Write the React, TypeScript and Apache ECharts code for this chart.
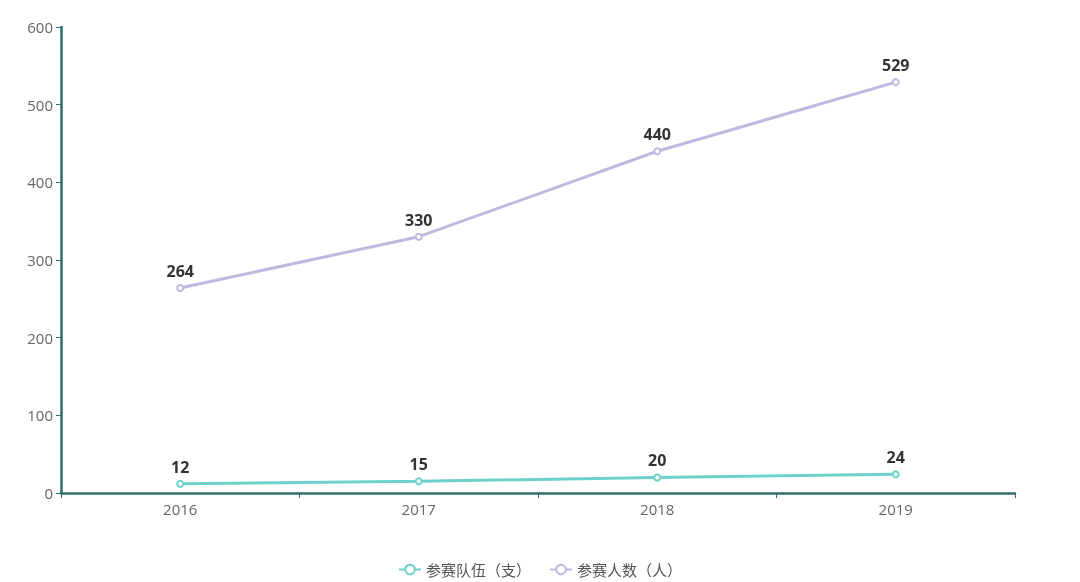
import React, { useEffect, useRef } from "react";
import * as echarts from "echarts";

const years = ["2016", "2017", "2018", "2019"];
const teams = [12, 15, 20, 24];
const people = [264, 330, 440, 529];

const FONT = "'Open Sans', 'Noto Sans CJK SC', sans-serif";
const AXIS_COLOR = "#2f6e6e";

export default function App() {
  const chartRef = useRef<HTMLDivElement>(null);

  useEffect(() => {
    if (!chartRef.current) return;
    const chart = echarts.init(chartRef.current, null, { renderer: "svg" });

    const labelStyle = {
      show: true,
      position: "top" as const,
      color: "#333",
      fontSize: 16,
      fontWeight: "bold" as const,
      fontFamily: FONT,
    };

    chart.setOption({
      animation: false,
      textStyle: { fontFamily: FONT },
      grid: { left: 61, right: 65, top: 27, bottom: 89 },
      legend: {
        top: 557,
        left: "center",
        itemWidth: 22,
        itemHeight: 12,
        itemGap: 18,
        textStyle: { color: "#555", fontSize: 15, fontFamily: FONT },
        data: ["参赛队伍（支）", "参赛人数（人）"],
      },
      xAxis: {
        type: "category",
        data: years,
        boundaryGap: true,
        axisLine: { lineStyle: { color: AXIS_COLOR, width: 2.5 } },
        axisTick: { show: true, lineStyle: { color: AXIS_COLOR } },
        axisLabel: { color: "#666", fontSize: 15, margin: 8 },
      },
      yAxis: {
        type: "value",
        min: 0,
        max: 600,
        interval: 100,
        splitLine: { show: false },
        axisLine: { show: true, lineStyle: { color: AXIS_COLOR, width: 2.5 } },
        axisTick: { show: true, lineStyle: { color: AXIS_COLOR } },
        axisLabel: { color: "#666", fontSize: 15, margin: 8 },
      },
      series: [
        {
          name: "参赛队伍（支）",
          type: "line",
          data: teams,
          symbol: "emptyCircle",
          symbolSize: 6,
          itemStyle: { color: "#6dd0cb" },
          lineStyle: { color: "#6dd0cb", width: 3 },
          label: labelStyle,
        },
        {
          name: "参赛人数（人）",
          type: "line",
          data: people,
          symbol: "emptyCircle",
          symbolSize: 6,
          itemStyle: { color: "#c2b8df" },
          lineStyle: { color: "#c2b8df", width: 3 },
          label: labelStyle,
        },
      ],
    });

    return () => chart.dispose();
  }, []);

  return (
    <div
      ref={chartRef}
      style={{ position: "fixed", left: 0, top: 0, width: "1080px", height: "582px" }}
    />
  );
}
